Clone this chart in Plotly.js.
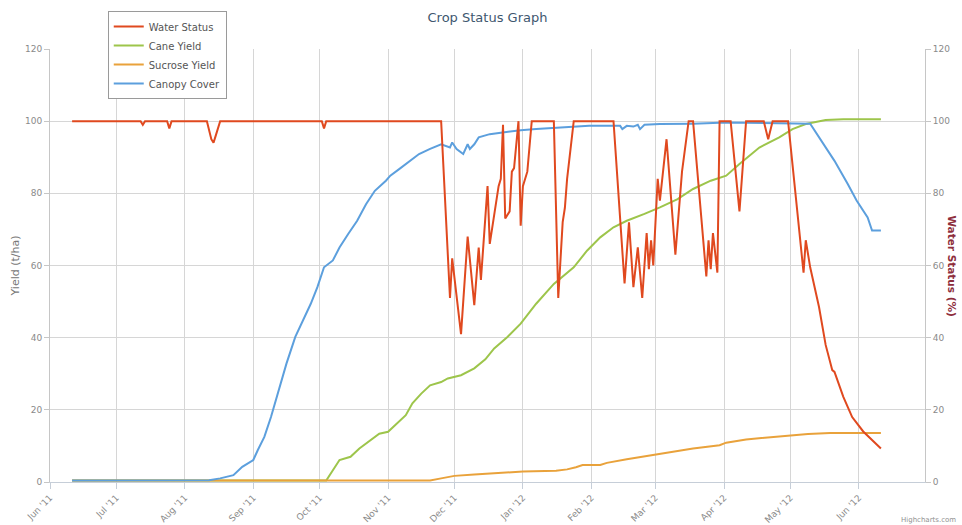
<!DOCTYPE html>
<html>
<head>
<meta charset="utf-8">
<script src="https://cdn.plot.ly/plotly-3.0.1.min.js"></script>
<style>
  html, body { margin: 0; padding: 0; background: #fff; }
  #chart { width: 962px; height: 525px; }
</style>
</head>
<body>
<div id="chart"></div>
<script>
// ---- Data ----
const seriesNames = ["Water Status", "Cane Yield", "Sucrose Yield", "Canopy Cover"];

const waterDates = [
  "2011-06-11", "2011-07-12", "2011-07-13", "2011-07-14", "2011-07-24", "2011-07-25", "2011-07-26",
  "2011-08-11", "2011-08-13", "2011-08-14", "2011-08-15", "2011-08-17",
  "2011-10-02", "2011-10-03", "2011-10-04",
  "2011-11-25", "2011-11-29", "2011-11-30", "2011-12-04", "2011-12-07", "2011-12-10", "2011-12-12",
  "2011-12-13", "2011-12-16", "2011-12-17", "2011-12-21", "2011-12-22", "2011-12-23", "2011-12-24",
  "2011-12-26", "2011-12-27", "2011-12-28", "2011-12-30", "2011-12-31", "2012-01-01", "2012-01-03",
  "2012-01-05", "2012-01-15", "2012-01-17", "2012-01-19", "2012-01-20", "2012-01-21", "2012-01-24",
  "2012-02-11", "2012-02-16", "2012-02-18", "2012-02-20", "2012-02-22", "2012-02-24", "2012-02-26",
  "2012-02-27", "2012-02-28", "2012-02-29", "2012-03-02", "2012-03-03", "2012-03-06", "2012-03-10",
  "2012-03-13", "2012-03-16", "2012-03-18", "2012-03-24", "2012-03-25", "2012-03-26", "2012-03-27",
  "2012-03-29", "2012-03-30", "2012-04-04", "2012-04-08", "2012-04-11", "2012-04-19", "2012-04-21",
  "2012-04-23", "2012-04-30", "2012-05-07", "2012-05-08", "2012-05-10", "2012-05-14", "2012-05-17",
  "2012-05-20", "2012-05-21", "2012-05-25", "2012-05-29", "2012-06-03", "2012-06-11"
];
const waterValues = [
  100, 100, 99, 100, 100, 98, 100,
  100, 95, 94, 96, 100,
  100, 98, 100,
  100, 51, 62, 41, 68, 49, 65,
  56, 82, 66, 82, 84, 99, 73,
  75, 86, 87, 100, 71, 82, 86,
  100, 100, 51, 72, 76, 84, 100,
  100, 55, 72, 54, 65, 51, 69,
  59, 67, 60, 84, 78, 95, 63,
  86, 100, 100, 57, 67, 59, 69,
  58, 100, 100, 75, 100, 100, 95,
  100, 100, 58, 67, 59.5, 48.5, 38,
  31, 30.5, 23.6, 18, 14, 9.3
];

const caneDates = [
  "2011-06-11", "2011-10-04", "2011-10-10", "2011-10-15", "2011-10-19", "2011-10-24", "2011-10-28",
  "2011-11-01", "2011-11-05", "2011-11-09", "2011-11-12", "2011-11-16", "2011-11-20", "2011-11-25",
  "2011-11-28", "2011-12-04", "2011-12-10", "2011-12-15", "2011-12-19", "2011-12-25", "2011-12-31",
  "2012-01-07", "2012-01-15", "2012-01-24", "2012-01-30", "2012-02-05", "2012-02-11", "2012-02-17",
  "2012-02-25", "2012-03-03", "2012-03-11", "2012-03-18", "2012-03-26", "2012-04-02", "2012-04-08",
  "2012-04-17", "2012-04-26", "2012-05-02", "2012-05-08", "2012-05-17", "2012-05-25", "2012-06-11"
];
const caneValues = [
  0.4, 0.4, 6.1, 7, 9.3, 11.6, 13.4,
  13.9, 16.2, 18.5, 21.8, 24.5, 26.8, 27.7,
  28.7, 29.6, 31.5, 34, 37, 40.2, 43.9,
  49.4, 54.9, 59.5, 64.1, 67.8, 70.6, 72.4,
  74.3, 76.1, 78.4, 81.2, 83.5, 84.9, 88.1,
  92.7, 95.5, 97.8, 99.2, 100.3, 100.5, 100.5
];

const sucroseDates = [
  "2011-06-11", "2011-11-20", "2011-11-25", "2011-12-01", "2011-12-10", "2011-12-25", "2012-01-01",
  "2012-01-16", "2012-01-21", "2012-01-25", "2012-01-28", "2012-02-05", "2012-02-08", "2012-02-17",
  "2012-02-29", "2012-03-09", "2012-03-18", "2012-03-30", "2012-04-02", "2012-04-11", "2012-04-23",
  "2012-05-01", "2012-05-09", "2012-05-19", "2012-06-11"
];
const sucroseValues = [
  0.4, 0.4, 1.0, 1.7, 2.1, 2.6, 2.9,
  3.1, 3.5, 4.1, 4.7, 4.7, 5.3, 6.3,
  7.5, 8.6, 9.3, 10.2, 10.9, 11.8, 12.4,
  13, 13.3, 13.6, 13.6
];

const canopyDates = [
  "2011-06-11", "2011-08-12", "2011-08-17", "2011-08-23", "2011-08-27", "2011-09-01", "2011-09-03",
  "2011-09-06", "2011-09-09", "2011-09-12", "2011-09-16", "2011-09-20", "2011-09-22", "2011-09-25",
  "2011-09-27", "2011-09-30", "2011-10-03", "2011-10-07", "2011-10-10", "2011-10-14", "2011-10-18",
  "2011-10-22", "2011-10-26", "2011-10-31", "2011-11-02", "2011-11-06", "2011-11-11", "2011-11-15",
  "2011-11-20", "2011-11-25", "2011-11-29", "2011-11-30", "2011-12-02", "2011-12-05", "2011-12-07",
  "2011-12-08", "2011-12-10", "2011-12-12", "2011-12-17", "2011-12-23", "2011-12-31", "2012-01-07",
  "2012-01-15", "2012-01-31", "2012-02-14", "2012-02-15", "2012-02-17", "2012-02-20", "2012-02-22",
  "2012-02-23", "2012-02-25", "2012-03-03", "2012-03-18", "2012-04-02", "2012-05-10", "2012-05-15",
  "2012-05-21", "2012-05-27", "2012-05-31", "2012-06-05", "2012-06-07", "2012-06-11"
];
const canopyValues = [
  0.4, 0.5, 1.0, 1.9, 4.2, 6.1, 8.8,
  12.5, 18, 24.5, 32.8, 40.2, 42.9, 46.6,
  49.4, 54, 59.5, 61.4, 65, 68.8, 72.4,
  77, 80.7, 83.5, 84.9, 86.7, 89, 90.9,
  92.3, 93.6, 92.7, 94.1, 92.3, 90.9, 93.6,
  92.3, 93.6, 95.5, 96.4, 96.9, 97.5, 97.8,
  98.1, 98.7, 98.7, 97.8, 98.7, 98.5, 99,
  97.8, 99, 99.2, 99.3, 99.6, 99.3, 94.6,
  89, 82.6, 78, 73.3, 69.7, 69.7
];

const yTickValues = [0, 20, 40, 60, 80, 100, 120];

// ---- Styling ----
const colors = ["#E0491F", "#9DC54B", "#E9A23B", "#5C9FDD"];
const fontFam = "DejaVu Sans, Verdana, sans-serif";

const traces = [
  { x: waterDates, y: waterValues, name: seriesNames[0], yaxis: "y2" },
  { x: caneDates, y: caneValues, name: seriesNames[1], yaxis: "y" },
  { x: sucroseDates, y: sucroseValues, name: seriesNames[2], yaxis: "y" },
  { x: canopyDates, y: canopyValues, name: seriesNames[3], yaxis: "y" }
].map((t, i) => Object.assign(t, {
  type: "scatter", mode: "lines",
  line: { color: colors[i], width: 2 },
  hoverinfo: "x+y+name"
}));

const axisLabelFont = { family: fontFam, size: 9, color: "#8a8a8a" };

const layout = {
  width: 962, height: 525,
  margin: { l: 50, r: 37, t: 48, b: 43 },
  paper_bgcolor: "#ffffff", plot_bgcolor: "#ffffff",
  font: { family: fontFam },
  title: {
    text: "Crop Status Graph",
    font: { family: fontFam, size: 13, color: "#3E576F" },
    x: 0.5, xref: "paper", xanchor: "center",
    y: 1 - 17 / 525, yref: "container", yanchor: "middle"
  },
  showlegend: true,
  legend: {
    x: 0.066, xanchor: "left", y: 1.085, yanchor: "top",
    bgcolor: "#ffffff", bordercolor: "#9a9a9a", borderwidth: 1,
    font: { family: fontFam, size: 10, color: "#555555" },
    itemwidth: 30, tracegroupgap: 0
  },
  xaxis: {
    type: "date",
    range: ["2011-06-01", "2012-06-30 23:00"],
    tick0: "2011-06-01", dtick: "M1",
    tickformat: "%b '%y", tickangle: -45,
    tickfont: axisLabelFont,
    showgrid: true, gridcolor: "#d6d6d6", gridwidth: 1,
    showline: true, linecolor: "#c6ced8", linewidth: 1,
    ticks: "outside", ticklen: 6, tickcolor: "#c6ced8",
    zeroline: false, fixedrange: true
  },
  yaxis: {
    range: [0, 120], tickvals: yTickValues,
    tickfont: axisLabelFont,
    showgrid: true, gridcolor: "#d6d6d6", gridwidth: 1,
    showline: true, linecolor: "#c6c6c6", linewidth: 1,
    ticks: "outside", ticklen: 5, tickcolor: "#c6c6c6",
    zeroline: false, fixedrange: true,
    title: { text: "Yield (t/ha)", font: { family: fontFam, size: 11, color: "#777777" }, standoff: 3 }
  },
  yaxis2: {
    range: [0, 120], tickvals: yTickValues,
    overlaying: "y", side: "right",
    tickfont: axisLabelFont,
    showgrid: false,
    showline: true, linecolor: "#c6c6c6", linewidth: 1,
    ticks: "outside", ticklen: 5, tickcolor: "#c6c6c6",
    zeroline: false, fixedrange: true
  },
  annotations: [
    {
      text: "<b>Water Status (%)</b>", textangle: 90,
      xref: "paper", yref: "paper", x: 1.031, y: 0.5,
      xanchor: "center", yanchor: "middle", showarrow: false,
      font: { family: fontFam, size: 10.5, color: "#8E2E3C" }
    },
    {
      text: "Highcharts.com",
      xref: "paper", yref: "paper", x: 1.038, y: -0.088,
      xanchor: "right", yanchor: "middle", showarrow: false,
      font: { family: fontFam, size: 7, color: "#909090" }
    }
  ]
};

Plotly.newPlot("chart", traces, layout, { displayModeBar: false, responsive: false });
</script>
</body>
</html>
